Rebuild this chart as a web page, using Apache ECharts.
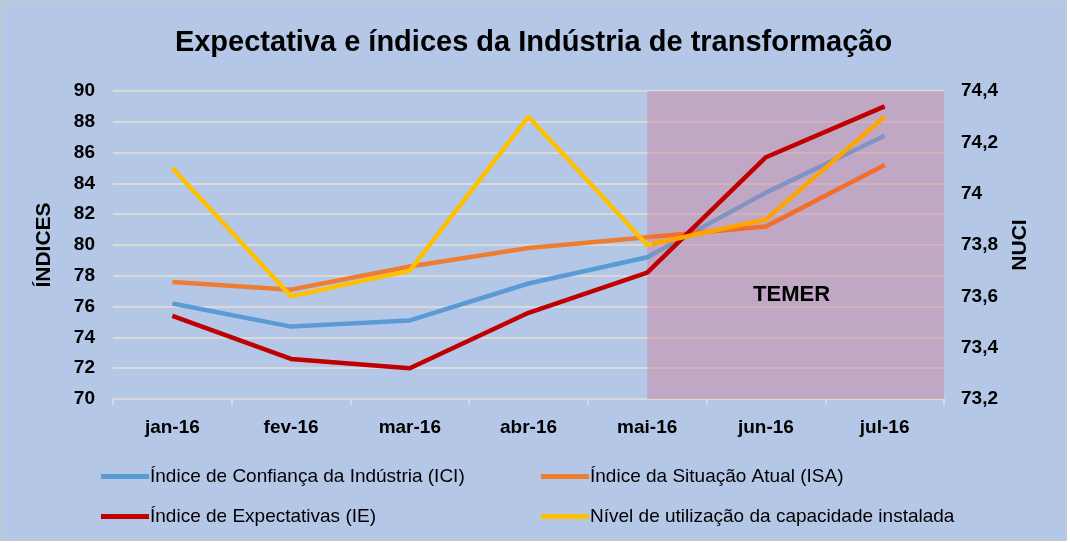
<!DOCTYPE html>
<html>
<head>
<meta charset="utf-8">
<script src="https://cdn.jsdelivr.net/npm/echarts@6/dist/echarts.min.js"></script>
<style>
html,body{margin:0;padding:0;background:#ffffff;}
#wrap{position:absolute;left:0;top:0;width:1065px;height:539px;border:1px solid #c8c8c8;background:#b4c7e7;}
#chart{width:1065px;height:539px;}
</style>
</head>
<body>
<div id="wrap"><div id="chart"></div></div>
<script>
const categories = ['jan-16','fev-16','mar-16','abr-16','mai-16','jun-16','jul-16'];
const ici = [76.2, 74.7, 75.1, 77.5, 79.2, 83.4, 87.1];
const isa = [77.6, 77.1, 78.6, 79.8, 80.5, 81.2, 85.2];
const ie = [75.4, 72.6, 72.0, 75.6, 78.2, 85.7, 89.0];
const nuci = [74.1, 73.6, 73.7, 74.3, 73.8, 73.9, 74.3];
const seriesNames = ['Índice de Confiança da Indústria (ICI)','Índice da Situação Atual (ISA)','Índice de Expectativas (IE)','Nível de utilização da capacidade instalada'];
const titleText = 'Expectativa e índices da Indústria de transformação';
const regionLabel = 'TEMER';
const regionStart = 'mai-16';

const FONT = '"Liberation Sans", Arial, sans-serif';
const chart = echarts.init(document.getElementById('chart'));
const startIdx = categories.indexOf(regionStart);
const frac = (startIdx + 0.03) / (categories.length - 1);
function grad(c1, c2){
  return new echarts.graphic.LinearGradient(0, 0, 1, 0, [
    {offset: 0, color: c1}, {offset: frac, color: c1},
    {offset: frac, color: c2}, {offset: 1, color: c2}]);
}
const legendText = {fontFamily: FONT, fontSize: 19, color: '#000', padding:[0,0,0,-4]};
chart.setOption({
  backgroundColor: 'transparent',
  animation: false,
  title: {text: titleText, left: 'center', top: 22,
    textStyle: {fontFamily: FONT, fontSize: 29, fontWeight: 'bold', color: '#000'}},
  legend: [
    {data: [{name: seriesNames[0], itemStyle:{color:'#5b9bd5'}}, {name: seriesNames[2], itemStyle:{color:'#c00000'}}],
     orient: 'vertical', left: 100, top: 466, itemGap: 21, padding: 0,
     icon: 'rect', itemWidth: 48, itemHeight: 5, textStyle: legendText},
    {data: [{name: seriesNames[1], itemStyle:{color:'#ed7d31'}}, {name: seriesNames[3], itemStyle:{color:'#ffc000'}}],
     orient: 'vertical', left: 540, top: 466, itemGap: 21, padding: 0,
     icon: 'rect', itemWidth: 48, itemHeight: 5, textStyle: legendText}
  ],
  grid: {left: 112, right: 122, top: 90, bottom: 141},
  xAxis: {type: 'category', data: categories, boundaryGap: true,
    axisLine: {lineStyle: {color: '#d9d9d9', width: 2}},
    axisTick: {show: true, length: 6, lineStyle: {color: '#d9d9d9', width: 2}},
    axisLabel: {fontFamily: FONT, fontSize: 19, fontWeight: 'bold', color: '#000', margin: 19}},
  yAxis: [
    {type: 'value', min: 70, max: 90, interval: 2, name: 'ÍNDICES', nameLocation: 'middle', nameGap: 58, nameRotate: 90,
     nameTextStyle: {fontFamily: FONT, fontSize: 21, fontWeight: 'bold', color: '#000'},
     axisLine: {show: false}, axisTick: {show: false},
     axisLabel: {fontFamily: FONT, fontSize: 19, fontWeight: 'bold', color: '#000', margin: 18},
     splitLine: {lineStyle: {color: '#d9d9d9', width: 2}}},
    {type: 'value', min: 73.2, max: 74.4, interval: 0.2, name: 'NUCI', nameLocation: 'middle', nameGap: 66, nameRotate: 90,
     nameTextStyle: {fontFamily: FONT, fontSize: 21, fontWeight: 'bold', color: '#000'},
     axisLine: {show: false}, axisTick: {show: false}, splitLine: {show: false},
     axisLabel: {fontFamily: FONT, fontSize: 19, fontWeight: 'bold', color: '#000', margin: 17,
       formatter: v => String(parseFloat(v.toFixed(1))).replace('.', ',')}}
  ],
  series: [
    {name: seriesNames[0], type: 'line', data: ici, symbol: 'none', z: 3,
     lineStyle: {width: 4.5, color: grad('#5b9bd5', '#8093c3')}, itemStyle: {color: '#5b9bd5'}},
    {name: seriesNames[1], type: 'line', data: isa, symbol: 'none', z: 3,
     lineStyle: {width: 4.5, color: grad('#ed7d31', '#f26e2c')}, itemStyle: {color: '#ed7d31'}},
    {name: seriesNames[2], type: 'line', data: ie, symbol: 'none', z: 4,
     lineStyle: {width: 4.5, color: '#c00000'}, itemStyle: {color: '#c00000'}},
    {name: seriesNames[3], type: 'line', data: nuci, yAxisIndex: 1, symbol: 'none', z: 5,
     lineStyle: {width: 4.5, color: grad('#ffc000', '#ffa500')}, itemStyle: {color: '#ffc000'}},
    {name: 'region', type: 'line', data: [], z: 1, silent: true,
     markArea: {silent: true,
       itemStyle: {color: 'rgba(204,137,161,0.5)'},
       label: {show: true, position: 'inside', offset: [-4, 50], fontFamily: FONT, fontSize: 22, fontWeight: 'bold', color: '#000'},
       data: [[{name: regionLabel, xAxis: regionStart}, {xAxis: Infinity}]]}}
  ]
});
</script>
</body>
</html>
